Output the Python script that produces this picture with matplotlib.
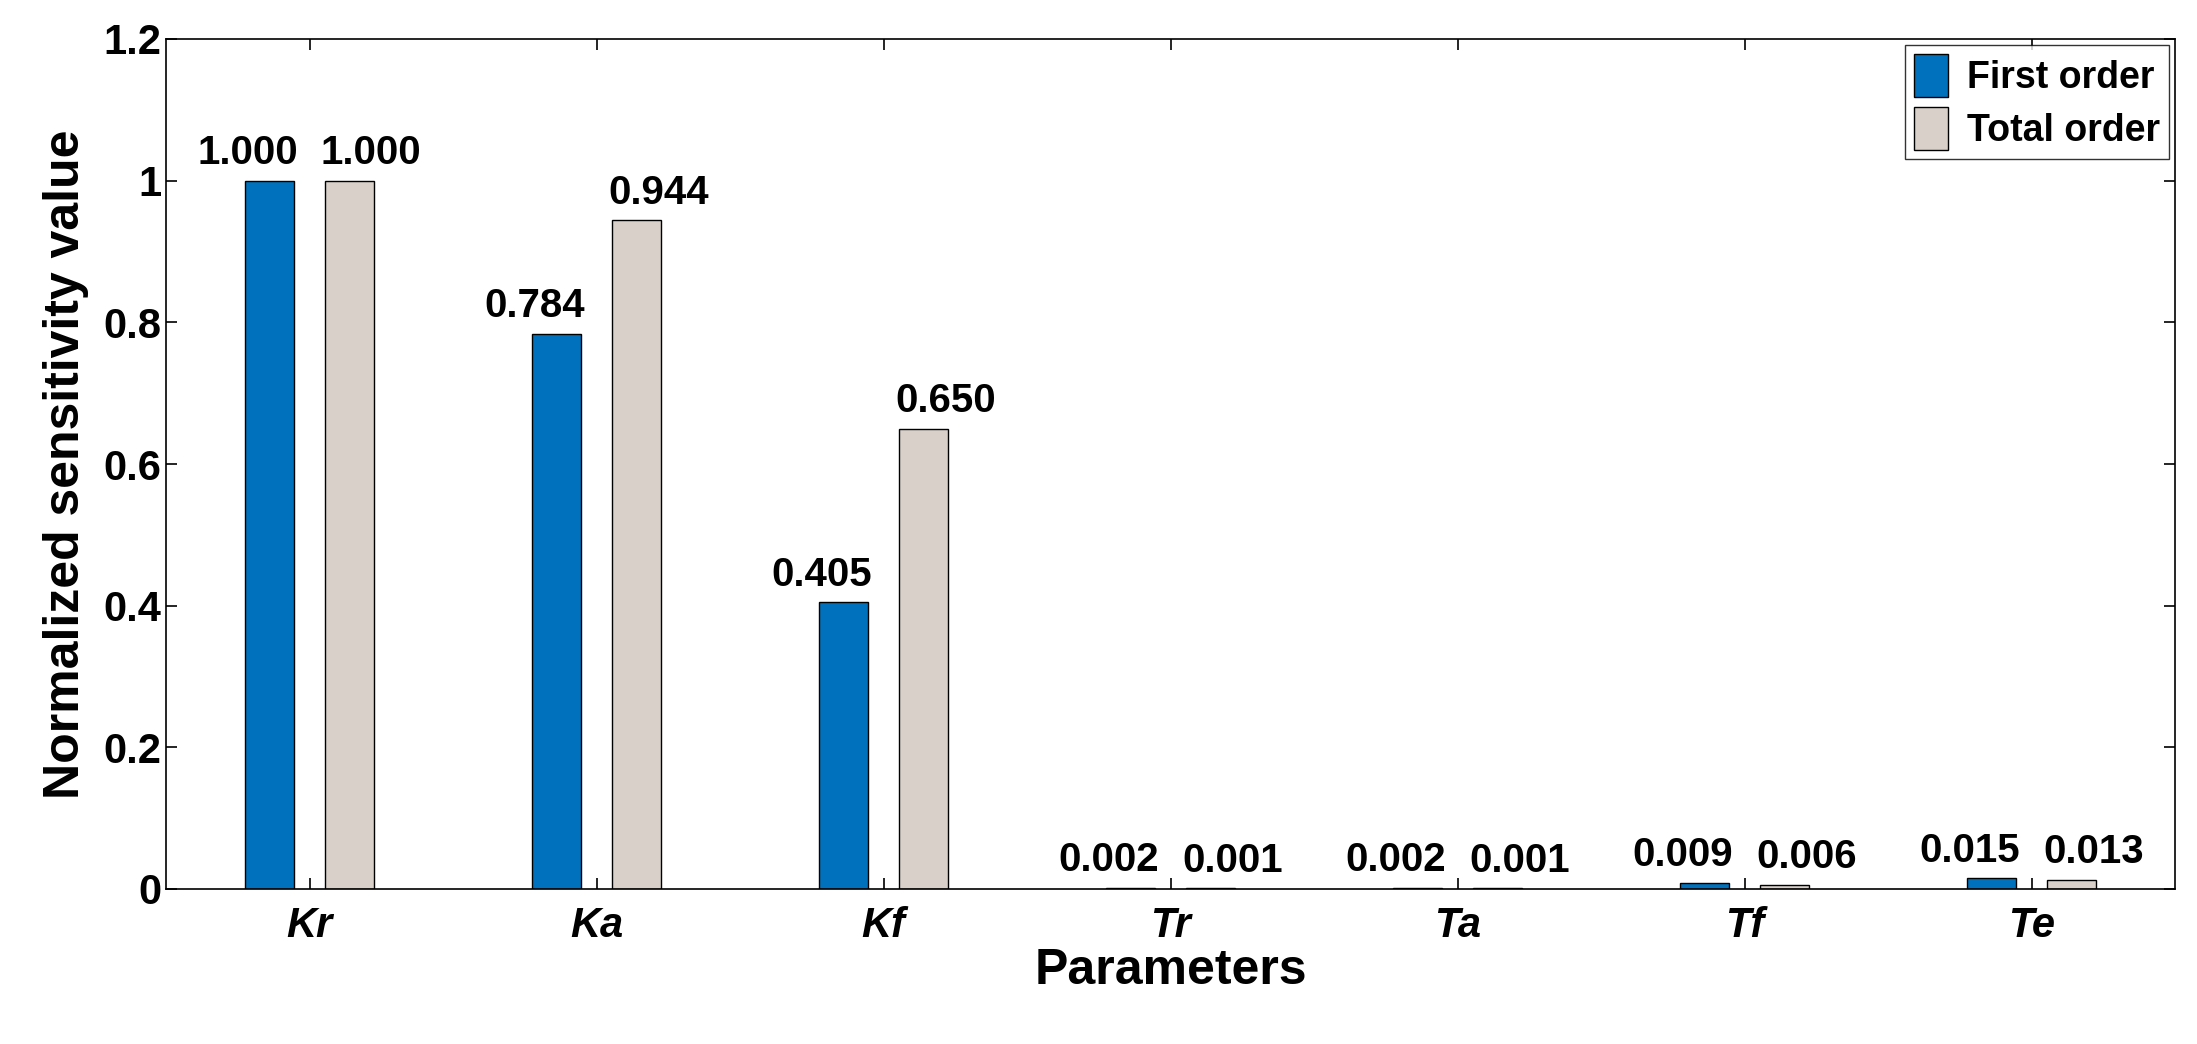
import numpy as np
import matplotlib
matplotlib.use('Agg')
import matplotlib.pyplot as plt
import matplotlib.ticker as mticker

params = ['Kr', 'Ka', 'Kf', 'Tr', 'Ta', 'Tf', 'Te']
first_order = [1.000, 0.784, 0.405, 0.002, 0.002, 0.009, 0.015]
total_order = [1.000, 0.944, 0.650, 0.001, 0.001, 0.006, 0.013]

plt.rcParams['font.family'] = ['Liberation Sans', 'DejaVu Sans']
plt.rcParams['font.weight'] = 'bold'

fig = plt.figure(figsize=(21.97, 10.44), dpi=100)
ax = fig.add_axes([166/2197, 1-889/1044, (2175-166)/2197, (889-39)/1044])

x = np.arange(1, len(params) + 1)
off, w = 0.14, 0.17
b1 = ax.bar(x - off, first_order, w, color='#0072BD', edgecolor='black', lw=1, label='First order')
b2 = ax.bar(x + off, total_order, w, color='#D9D0C9', edgecolor='black', lw=1, label='Total order')
# labels pushed slightly outward from each bar pair, as in the original
for bars, vals, shift in ((b1, first_order, -0.075), (b2, total_order, 0.075)):
    for b, v in zip(bars, vals):
        ax.text(b.get_x() + b.get_width()/2 + shift, v + 0.012, f'{v:.3f}', ha='center',
                va='bottom', fontsize=29, fontweight='bold')

ax.set_xlim(0.5, 7.5)
ax.set_ylim(0, 1.2)
ax.set_yticks(np.arange(0, 1.21, 0.2))
ax.yaxis.set_major_formatter(mticker.FuncFormatter(lambda v, p: f'{v:g}'))
ax.set_xticks(x)
ax.set_xticklabels(params, fontstyle='italic')
ax.tick_params(direction='in', labelsize=30, width=1.2, length=8, top=True, right=True)
ax.tick_params(axis='x', pad=12)
for s in ax.spines.values():
    s.set_linewidth(1.2)
ax.set_xlabel('Parameters', fontsize=36, fontweight='bold', labelpad=2)
ax.set_ylabel('Normalized sensitivity value', fontsize=36, fontweight='bold', labelpad=10)
ax.legend(loc='upper right', fontsize=27, fancybox=False, edgecolor='black',
          borderaxespad=0.15, handlelength=0.9, handleheight=1.4, borderpad=0.25,
          labelspacing=0.25, handletextpad=0.5)

fig.savefig('out.png', dpi=100)
